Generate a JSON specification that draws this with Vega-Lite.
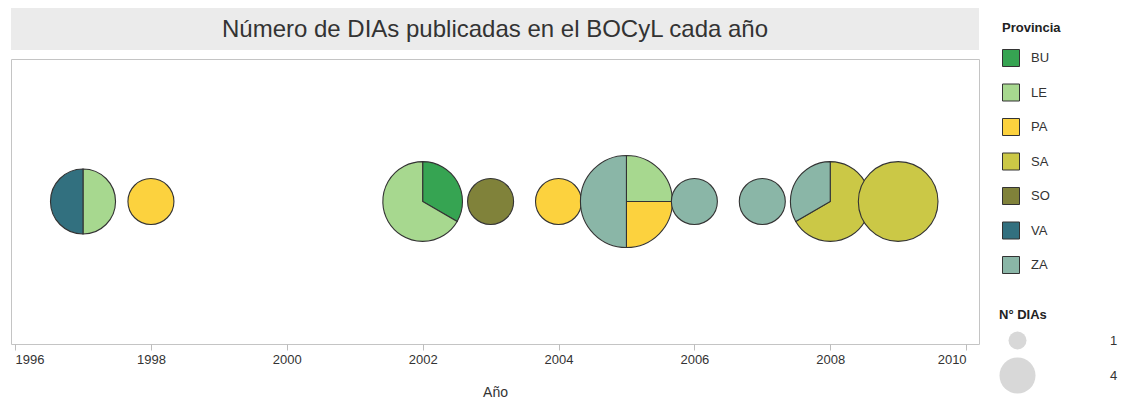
{
  "$schema": "https://vega.github.io/schema/vega-lite/v6.json",
  "background": "white",
  "padding": {"left": 10, "top": 8, "right": 0, "bottom": 5},
  "datasets": {
    "dias": [
      {"anio": 1997, "provincia": "LE", "n": 1},
      {"anio": 1997, "provincia": "VA", "n": 1},
      {"anio": 1998, "provincia": "PA", "n": 1},
      {"anio": 2002, "provincia": "BU", "n": 1},
      {"anio": 2002, "provincia": "LE", "n": 2},
      {"anio": 2003, "provincia": "SO", "n": 1},
      {"anio": 2004, "provincia": "PA", "n": 1},
      {"anio": 2005, "provincia": "LE", "n": 1},
      {"anio": 2005, "provincia": "PA", "n": 1},
      {"anio": 2005, "provincia": "ZA", "n": 2},
      {"anio": 2006, "provincia": "ZA", "n": 1},
      {"anio": 2007, "provincia": "ZA", "n": 1},
      {"anio": 2008, "provincia": "SA", "n": 2},
      {"anio": 2008, "provincia": "ZA", "n": 1},
      {"anio": 2009, "provincia": "SA", "n": 3}
    ],
    "titulo": [{"t": "Número de DIAs publicadas en el BOCyL cada año"}]
  },
  "config": {
    "font": "Liberation Sans",
    "view": {"stroke": "#c4c4c4", "strokeWidth": 1},
    "legend": {
      "titleFontSize": 13,
      "titleFontWeight": "bold",
      "titleColor": "#222222",
      "labelFontSize": 13,
      "labelColor": "#333333",
      "offset": 8,
      "padding": 14
    }
  },
  "spacing": 8,
  "vconcat": [
    {
      "data": {"name": "titulo"},
      "width": 968,
      "height": 42,
      "view": {"fill": "#ebebeb", "stroke": null},
      "mark": {"type": "text", "fontSize": 24, "color": "#333333", "font": "Liberation Sans", "dy": 1},
      "encoding": {"text": {"field": "t", "type": "nominal"}}
    },
    {
      "data": {"name": "dias"},
      "width": 968,
      "height": 285,
      "transform": [
        {"joinaggregate": [{"op": "sum", "field": "n", "as": "total"}], "groupby": ["anio"]},
        {"stack": "n", "groupby": ["anio"], "sort": [{"field": "provincia", "order": "ascending"}], "offset": "normalize", "as": ["a0", "a1"]}
      ],
      "layer": [
        {
          "mark": {"type": "arc", "stroke": "#333333", "strokeWidth": 1.1},
          "encoding": {
            "x": {
              "field": "anio",
              "type": "quantitative",
              "stack": null,
              "scale": {"domain": [1995.94, 2010.19], "nice": false, "zero": false},
              "axis": {
                "title": "Año",
                "values": [1996, 1998, 2000, 2002, 2004, 2006, 2008, 2010],
                "format": "d",
                "grid": false,
                "domain": false,
                "labelFlush": 15,
                "tickColor": "#bdbdbd",
                "tickSize": 6,
                "labelFontSize": 13,
                "labelColor": "#333333",
                "labelPadding": 3,
                "titleFontSize": 14,
                "titleFontWeight": "normal",
                "titleColor": "#333333",
                "titlePadding": 19
              }
            },
            "theta": {"field": "a0", "type": "quantitative", "stack": null, "scale": {"domain": [0, 1]}},
            "theta2": {"field": "a1"},
            "radius": {"field": "total", "type": "quantitative", "stack": null, "scale": {"type": "sqrt", "domain": [0, 4], "range": [0, 46]}},
            "color": {
              "field": "provincia",
              "type": "nominal",
              "scale": {
                "domain": ["BU", "LE", "PA", "SA", "SO", "VA", "ZA"],
                "range": ["#36a452", "#a7d88f", "#fcd23e", "#cbc846", "#80823a", "#32707f", "#8ab6a7"]
              },
              "legend": {"title": "Provincia", "symbolType": "square", "symbolSize": 289, "symbolStrokeColor": "#333333", "symbolStrokeWidth": 1, "rowPadding": 12.5, "titlePadding": 14, "labelOffset": 11}
            }
          }
        },
        {
          "mark": {"type": "point", "filled": true, "opacity": 0, "color": "#d8d8d8", "shape": "circle"},
          "encoding": {
            "x": {"field": "anio", "type": "quantitative", "stack": null, "scale": {"domain": [1995.94, 2010.19], "nice": false, "zero": false}},
            "size": {
              "field": "total",
              "type": "quantitative",
              "scale": {"domain": [0, 4], "range": [0, 1296]},
              "legend": {"title": "N° DIAs", "values": [1, 4], "padding": 11, "titlePadding": 9, "rowPadding": 3, "symbolOpacity": 1, "symbolFillColor": "#d8d8d8", "symbolStrokeColor": "#bfbfbf", "symbolStrokeWidth": 1, "labelOffset": 74}
            }
          }
        }
      ]
    }
  ]
}
